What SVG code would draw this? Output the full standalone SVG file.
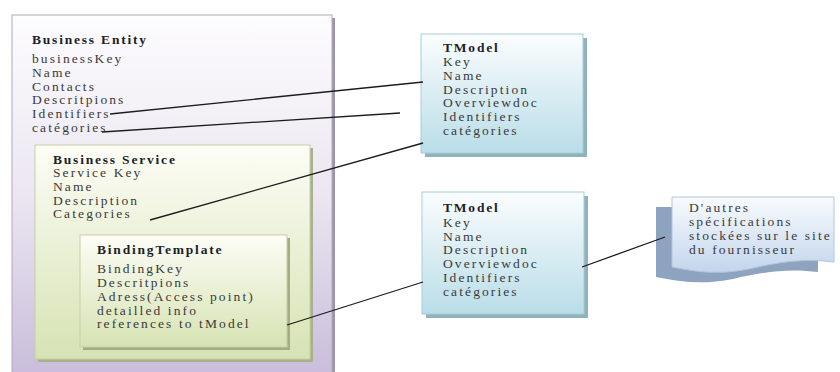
<svg xmlns="http://www.w3.org/2000/svg" width="840" height="372" viewBox="0 0 840 372">
<defs>
<linearGradient id="gEnt" x1="0" y1="0" x2="0" y2="1"><stop offset="0" stop-color="#fdfcfe"/><stop offset="0.5" stop-color="#ebe6f1"/><stop offset="1" stop-color="#c9bddb"/></linearGradient>
<linearGradient id="gSvc" x1="0" y1="0" x2="0" y2="1"><stop offset="0" stop-color="#fdfdf6"/><stop offset="1" stop-color="#d6e3b3"/></linearGradient>
<linearGradient id="gTm" x1="0" y1="0" x2="0" y2="1"><stop offset="0" stop-color="#fbfdfe"/><stop offset="1" stop-color="#b9dde8"/></linearGradient>
<linearGradient id="gDoc" x1="0" y1="0" x2="0" y2="1"><stop offset="0" stop-color="#f9fbfe"/><stop offset="1" stop-color="#c3d5ec"/></linearGradient>
</defs>
<style>
text{font-family:"Liberation Serif","Times New Roman",serif;font-size:13.5px;letter-spacing:2.1px;fill:#3a3a3a}
.t{font-weight:bold;fill:#1e1e2a;letter-spacing:1.8px}
.c{fill:none;stroke:#1c1c1c;stroke-width:1.3}
</style>
<g id="business-entity">
<rect x="15" y="18" width="320" height="360" fill="#9c95ad"/>
<rect x="12" y="15" width="320" height="360" fill="url(#gEnt)" stroke="#b0aabb" stroke-width="1"/>
<text class="t" x="32" y="44">Business Entity</text>
<text x="32" y="63">businessKey</text>
<text x="32" y="77">Name</text>
<text x="32" y="91">Contacts</text>
<text x="32" y="104">Descritpions</text>
<text x="32" y="118">Identifiers</text>
<text x="32" y="132">catégories</text>
</g>
<g id="business-service">
<rect x="38" y="148" width="275" height="214" fill="#a9b08e"/>
<rect x="35" y="145" width="275" height="214" fill="url(#gSvc)" stroke="#c5cfa5" stroke-width="1"/>
<text class="t" x="53" y="164">Business Service</text>
<text x="53" y="177">Service Key</text>
<text x="53" y="191">Name</text>
<text x="53" y="205">Description</text>
<text x="53" y="218">Categories</text>
</g>
<g id="binding-template">
<rect x="83" y="238" width="207" height="112" fill="#a4ac86"/>
<rect x="80" y="235" width="207" height="112" fill="url(#gSvc)" stroke="#c5cfa5" stroke-width="1"/>
<text class="t" x="97" y="254">BindingTemplate</text>
<text x="97" y="273">BindingKey</text>
<text x="97" y="287">Descritpions</text>
<text x="97" y="301">Adress(Access point)</text>
<text x="97" y="315">detailled info</text>
<text x="97" y="328">references to tModel</text>
</g>
<g id="tmodel-1">
<rect x="425" y="38" width="162" height="119" fill="#8fb2bd"/>
<rect x="421" y="34" width="162" height="119" fill="url(#gTm)" stroke="#a9cbd6" stroke-width="1"/>
<text class="t" x="443" y="52">TModel</text>
<text x="443" y="66">Key</text>
<text x="443" y="80">Name</text>
<text x="443" y="94">Description</text>
<text x="443" y="107">Overviewdoc</text>
<text x="443" y="121">Identifiers</text>
<text x="443" y="135">catégories</text>
</g>
<g id="tmodel-2">
<rect x="426" y="196" width="162" height="122" fill="#8fb2bd"/>
<rect x="422" y="192" width="162" height="122" fill="url(#gTm)" stroke="#a9cbd6" stroke-width="1"/>
<text class="t" x="443" y="212">TModel</text>
<text x="443" y="227">Key</text>
<text x="443" y="241">Name</text>
<text x="443" y="254">Description</text>
<text x="443" y="268">Overviewdoc</text>
<text x="443" y="282">Identifiers</text>
<text x="443" y="296">catégories</text>
</g>
<g id="supplier-doc">
<path d="M656,207 H818 V272 C788,268 763,272 733,279 C703,285 680,282 656,277 Z" fill="#8ea3bf"/>
<path d="M672,197 H834 V262 C804,258 779,262 749,269 C719,275 696,272 672,267 Z" fill="url(#gDoc)" stroke="#b3c4da" stroke-width="1"/>
<text x="689" y="212">D'autres</text>
<text x="689" y="226">spécifications</text>
<text x="689" y="240">stockées sur le site</text>
<text x="689" y="254">du fournisseur</text>
</g>
<g id="connectors">
<path class="c" d="M110,114 L423,82"/>
<path class="c" d="M102,132 L400,113"/>
<path class="c" d="M150,220 L423,143"/>
<path class="c" d="M287,325 L423,282"/>
<path class="c" d="M582,267 L665,237"/>
</g>
</svg>
